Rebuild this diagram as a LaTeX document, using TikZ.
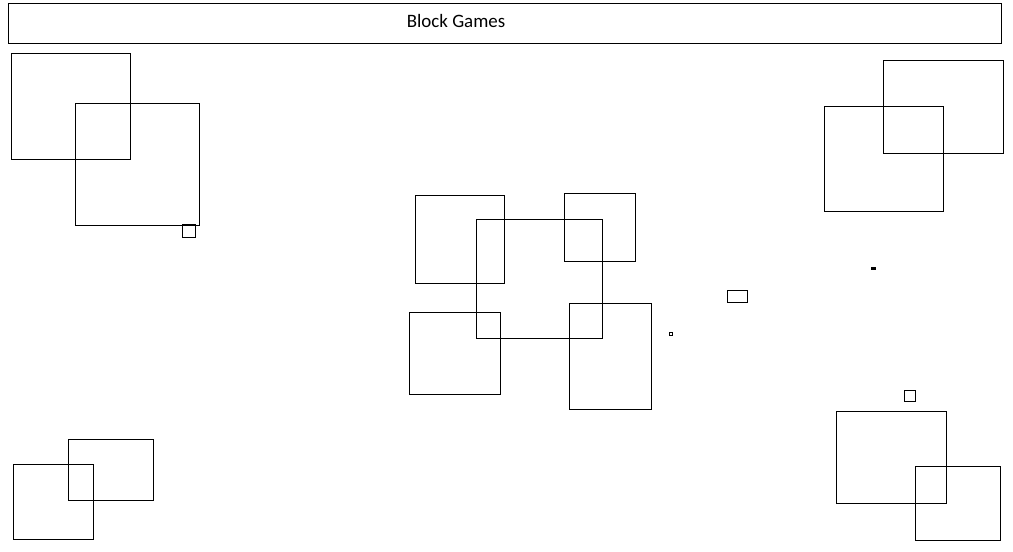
\documentclass[tikz,border=0pt]{standalone}
\usepackage{fontspec}
\setmainfont{Carlito}
\newcommand\blk[5]{\node[blk,minimum width={(#4-#2)*0.75pt},minimum height={(#5-#3)*0.75pt}] (#1) at (#2,#3) {};}
\begin{document}
\begin{tikzpicture}[x=0.75pt,y=-0.75pt,
  blk/.style={draw=black,line width=0.75pt,inner sep=0pt,outer sep=0pt,anchor=north west,fill=none},
  title/.style={font=\fontsize{14.2pt}{17pt}\selectfont,inner sep=0pt}]
\useasboundingbox (0,0) rectangle (1013,551);
% title bar
\blk{bar}{8}{3}{1001}{43}
\node[title] (ttl) at (456,21) {Block Games};
% top-left pair
\blk{tlA}{11}{53}{130}{159}
\blk{tlB}{75}{103}{199}{225}
\blk{tlS}{182}{224}{195}{237}
% center cluster
\blk{cC}{476}{219}{602}{338}
\blk{c1}{415}{195}{504}{283}
\blk{c2}{564}{193}{635}{261}
\blk{c3}{409}{312}{500}{394}
\blk{c4}{569}{303}{651}{409}
% small items
\blk{dot}{669}{332}{672}{335}
\blk{rct}{727}{290}{747}{302}
\node[blk,fill=black,minimum width=3pt,minimum height=1.5pt] (dash) at (871,267) {};
\blk{sq}{904}{390}{915}{401}
% top-right pair
\blk{trA}{883}{60}{1003}{153}
\blk{trB}{824}{106}{943}{211}
% bottom-left pair
\blk{blA}{68}{439}{153}{500}
\blk{blB}{13}{464}{93}{539}
% bottom-right pair
\blk{brA}{836}{411}{946}{503}
\blk{brB}{915}{466}{1000}{540}
\end{tikzpicture}
\end{document}
